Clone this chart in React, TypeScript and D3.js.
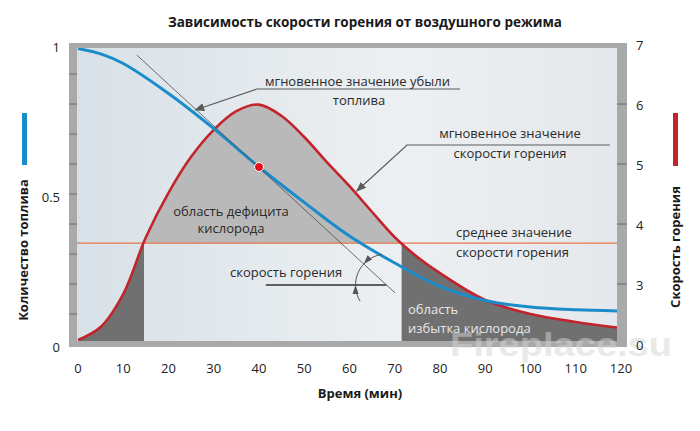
import * as d3 from "d3";

// время, мин (ось X)
const xTicks = [0, 10, 20, 30, 40, 50, 60, 70, 80, 90, 100, 110, 120];

// скорость горения (правая ось, разрыв между 0 и 3)
const rateTimes = [0, 5, 10, 15, 20, 25, 30, 35, 40, 45, 50, 55, 60, 65, 70, 75, 80, 90, 100, 110, 120];
const rateValues = [0.2, 0.85, 2.5, 3.78, 4.52, 5.12, 5.57, 5.88, 5.99, 5.8, 5.45, 5.03, 4.63, 4.2, 3.78, 3.45, 3.18, 2.2, 1.5, 1.1, 0.8];

// количество топлива (левая ось)
const fuelTimes = [0, 5, 10, 20, 30, 40, 50, 60, 70, 80, 90, 100, 110, 120];
const fuelValues = [0.985, 0.967, 0.935, 0.835, 0.718, 0.59, 0.472, 0.36, 0.27, 0.192, 0.145, 0.123, 0.114, 0.11];

const meanRate = 3.68;

const leftTicks = [0, 0.5, 1];
const leftTickLabels = ["0", "0.5", "1"];
const leftMinorTicks = [0.1, 0.2, 0.3, 0.4, 0.5, 0.6, 0.7, 0.8, 0.9];
const rightTicks = [0, 3, 4, 5, 6, 7];
const rightTickLabels = ["0", "3", "4", "5", "6", "7"];
const rightMarks = [3, 4, 5, 6];

// касательная к кривой топлива в точке t = 40
const tangentStart = [13.0, 0.963];
const tangentEnd = [70.1, 0.17];
const tangentPoint = [40, 0.59];

const W = 700;
const H = 431;
const FONT = "'Open Sans', sans-serif";

function crossings(ts: number[], vs: number[], level: number) {
  const out: number[] = [];
  for (let i = 1; i < ts.length; i++) {
    const a = vs[i - 1] - level;
    const b = vs[i] - level;
    if (a * b < 0) out.push(ts[i - 1] + (ts[i] - ts[i - 1]) * (a / (a - b)));
  }
  return out;
}

export default function App() {
  const x = d3.scaleLinear([0, 120], [78, 621]);
  const yL = d3.scaleLinear([0, 1], [344, 44]);
  const yR = d3.scaleLinear([0, 3, 7], [344, 284, 44]);

  const inner = { x0: 77, x1: 617, y0: 48, y1: 341 };
  const frame = { x0: 69, x1: 627, y0: 43, y1: 347 };

  const rateData = rateTimes.map((t, i) => [t, rateValues[i]] as [number, number]);
  const fuelData = fuelTimes.map((t, i) => [t, fuelValues[i]] as [number, number]);

  const curve = d3.curveCatmullRom.alpha(0.5);
  const rateLine = d3.line<[number, number]>()
    .x(d => x(d[0])).y(d => yR(d[1])).curve(curve);
  const rateArea = d3.area<[number, number]>()
    .x(d => x(d[0])).y0(inner.y1).y1(d => yR(d[1])).curve(curve);
  const fuelLine = d3.line<[number, number]>()
    .x(d => x(d[0])).y(d => yL(d[1])).curve(curve);

  const [c1, c2] = crossings(rateTimes, rateValues, meanRate);
  const yMean = yR(meanRate);

  // касательная и угол
  const tx0 = x(tangentStart[0]), ty0 = yL(tangentStart[1]);
  const tx1 = x(tangentEnd[0]), ty1 = yL(tangentEnd[1]);
  const hy = yR(3) + 1;
  const px = tx0 + (tx1 - tx0) * (hy - ty0) / (ty1 - ty0);
  const r = 31;
  const aTan = Math.atan2(ty0 - hy, tx0 - px);
  const aHor = Math.PI;
  const aTop = aTan + 0.66;
  const aBot = aHor - 0.55;
  const pt = (a: number) => [px + r * Math.cos(a), hy + r * Math.sin(a)];
  const [ax0, ay0] = pt(aTop);
  const [ax1, ay1] = pt(aBot);
  const arrowHead = (a: number, sign: number) => {
    const [tipX, tipY] = pt(a);
    const dx = -Math.sin(a) * sign, dy = Math.cos(a) * sign;
    const bx = tipX - dx * 9, by = tipY - dy * 9;
    return `M${tipX},${tipY}L${bx - dy * 3},${by + dx * 3}L${bx + dy * 3},${by - dx * 3}Z`;
  };

  const dotX = x(tangentPoint[0]);
  const dotY = yL(tangentPoint[1]);

  const txt = { fontFamily: FONT, fontSize: 13, fill: "#2a2a2a" };

  return (
    <svg width={W} height={H} style={{ position: "absolute", left: 0, top: 0, background: "#fff" }}>
      <defs>
        <linearGradient id="bg" x1="0" x2="1" y1="0" y2="0">
          <stop offset="0" stopColor="#d8e1e8" />
          <stop offset="0.6" stopColor="#edf0f2" />
          <stop offset="1" stopColor="#e4e8ec" />
        </linearGradient>
        <clipPath id="plot">
          <rect x={inner.x0} y={inner.y0} width={inner.x1 - inner.x0} height={inner.y1 - inner.y0} />
        </clipPath>
        <clipPath id="above">
          <rect x={inner.x0} y={inner.y0} width={inner.x1 - inner.x0} height={yMean - inner.y0} />
        </clipPath>
        <clipPath id="deficitLeft">
          <rect x={inner.x0} y={inner.y0} width={x(c1) - inner.x0} height={inner.y1 - inner.y0} />
        </clipPath>
        <clipPath id="deficitRight">
          <rect x={x(c2)} y={inner.y0} width={inner.x1 - x(c2)} height={inner.y1 - inner.y0} />
        </clipPath>
        <marker id="arr" viewBox="0 0 10 10" refX="9" refY="5" markerWidth="10" markerHeight="10"
          markerUnits="userSpaceOnUse" orient="auto">
          <path d="M0,1L10,5L0,9Z" fill="#5a5a5a" />
        </marker>
      </defs>

      <text x={365} y={27} textAnchor="middle" fontFamily={FONT} fontSize={13.5} fontWeight="bold" fill="#1a1a1a">
        Зависимость скорости горения от воздушного режима
      </text>

      {/* рамка */}
      <rect x={frame.x0} y={frame.y0} width={frame.x1 - frame.x0} height={frame.y1 - frame.y0} fill="#a9a9a9" />
      <rect x={inner.x0} y={inner.y0} width={inner.x1 - inner.x0} height={inner.y1 - inner.y0} fill="url(#bg)" />
      {leftMinorTicks.map(v => (
        <line key={v} x1={frame.x0} x2={inner.x0} y1={yL(v)} y2={yL(v)} stroke="#6a6a6a" strokeWidth={1} />
      ))}
      {rightMarks.map(v => (
        <line key={v} x1={inner.x1} x2={frame.x1} y1={yR(v)} y2={yR(v)} stroke="#6a6a6a" strokeWidth={1} />
      ))}

      <g clipPath="url(#plot)">
        <path d={rateArea(rateData) ?? ""} fill="#b9b9b9" clipPath="url(#above)" />
        <g clipPath="url(#deficitLeft)">
          <path d={rateArea(rateData) ?? ""} fill="#707070" />
        </g>
        <g clipPath="url(#deficitRight)">
          <path d={rateArea(rateData) ?? ""} fill="#707070" />
        </g>
        <line x1={inner.x0} x2={inner.x1} y1={yMean} y2={yMean} stroke="#e8774a" strokeWidth={1.3} />
        <path d={rateLine(rateData) ?? ""} fill="none" stroke="#c3232a" strokeWidth={2.6} />
        <path d={fuelLine(fuelData) ?? ""} fill="none" stroke="#1b8ccb" strokeWidth={3} />
      </g>

      {/* касательная */}
      <line x1={tx0} y1={ty0} x2={tx1} y2={ty1} stroke="#555" strokeWidth={1} opacity={0.85} />
      <circle cx={dotX} cy={dotY} r={4.5} fill="#e3101b" stroke="#fff" strokeWidth={1} />

      {/* угол */}
      <line x1={x(41.5)} x2={px} y1={hy} y2={hy} stroke="#5f5f5f" strokeWidth={2} />
      <path d={`M${ax0},${ay0}A${r},${r} 0 0 0 ${ax1},${ay1}`} fill="none" stroke="#555" strokeWidth={1} />
      <path d={arrowHead(aTan, -1)} fill="#555" />
      <path d={arrowHead(aHor, 1)} fill="#555" />

      {/* выноски */}
      <polyline points={`460,89 257,89 ${x(25.9)},${yL(0.78)}`} fill="none" stroke="#5a5a5a" strokeWidth={1.2} markerEnd="url(#arr)" />
      <text x={265} y={86} {...txt}>мгновенное значение убыли</text>
      <text x={359} y={105} textAnchor="middle" {...txt}>топлива</text>

      <polyline points={`610,145 407,145 ${x(61.6)},${yR(4.55)}`} fill="none" stroke="#5a5a5a" strokeWidth={1.2} markerEnd="url(#arr)" />
      <text x={510} y={138} textAnchor="middle" {...txt}>мгновенное значение</text>
      <text x={510} y={158} textAnchor="middle" {...txt}>скорости горения</text>

      <text x={231} y={216} textAnchor="middle" {...txt}>область дефицита</text>
      <text x={231} y={233} textAnchor="middle" {...txt}>кислорода</text>

      <text x={456} y={237} {...txt}>среднее значение</text>
      <text x={456} y={257} {...txt}>скорости горения</text>

      <text x={230} y={277} {...txt}>скорость горения</text>

      <text x={408} y={314} {...txt} fill="#e8e8e8">область</text>
      <text x={408} y={333} {...txt} fill="#e8e8e8">избытка кислорода</text>

      <text x={450} y={356} fontFamily="'Liberation Sans', Arial, sans-serif" fontSize={34} fontWeight="bold"
        fill="#d4d4d4" opacity={0.5} textLength={222} lengthAdjust="spacingAndGlyphs">Fireplace.su</text>

      {/* оси */}
      {leftTicks.map((v, i) => (
        <text key={v} x={60} y={yL(v) + 3} dy="0.35em" textAnchor="end" fontFamily={FONT} fontSize={13} fill="#222">
          {leftTickLabels[i]}
        </text>
      ))}
      {rightTicks.map((v, i) => (
        <text key={v} x={636} y={yR(v) + 1} dy="0.35em" fontFamily={FONT} fontSize={13} fill="#222">
          {rightTickLabels[i]}
        </text>
      ))}
      {xTicks.map(t => (
        <text key={t} x={x(t)} y={373} textAnchor="middle" fontFamily={FONT} fontSize={13} fill="#222">{t}</text>
      ))}
      <text x={360} y={398} textAnchor="middle" fontFamily={FONT} fontSize={13} fontWeight="bold" fill="#1a1a1a">
        Время (мин)
      </text>

      <rect x={22} y={113} width={5} height={52} fill="#1b8ccb" />
      <text transform="translate(28,250) rotate(-90)" textAnchor="middle" fontFamily={FONT} fontSize={13}
        fontWeight="bold" fill="#1a1a1a">Количество топлива</text>

      <rect x={673} y={113} width={5} height={53} fill="#c3232a" />
      <text transform="translate(680,247) rotate(-90)" textAnchor="middle" fontFamily={FONT} fontSize={13}
        fontWeight="bold" fill="#1a1a1a">Скорость горения</text>
    </svg>
  );
}
